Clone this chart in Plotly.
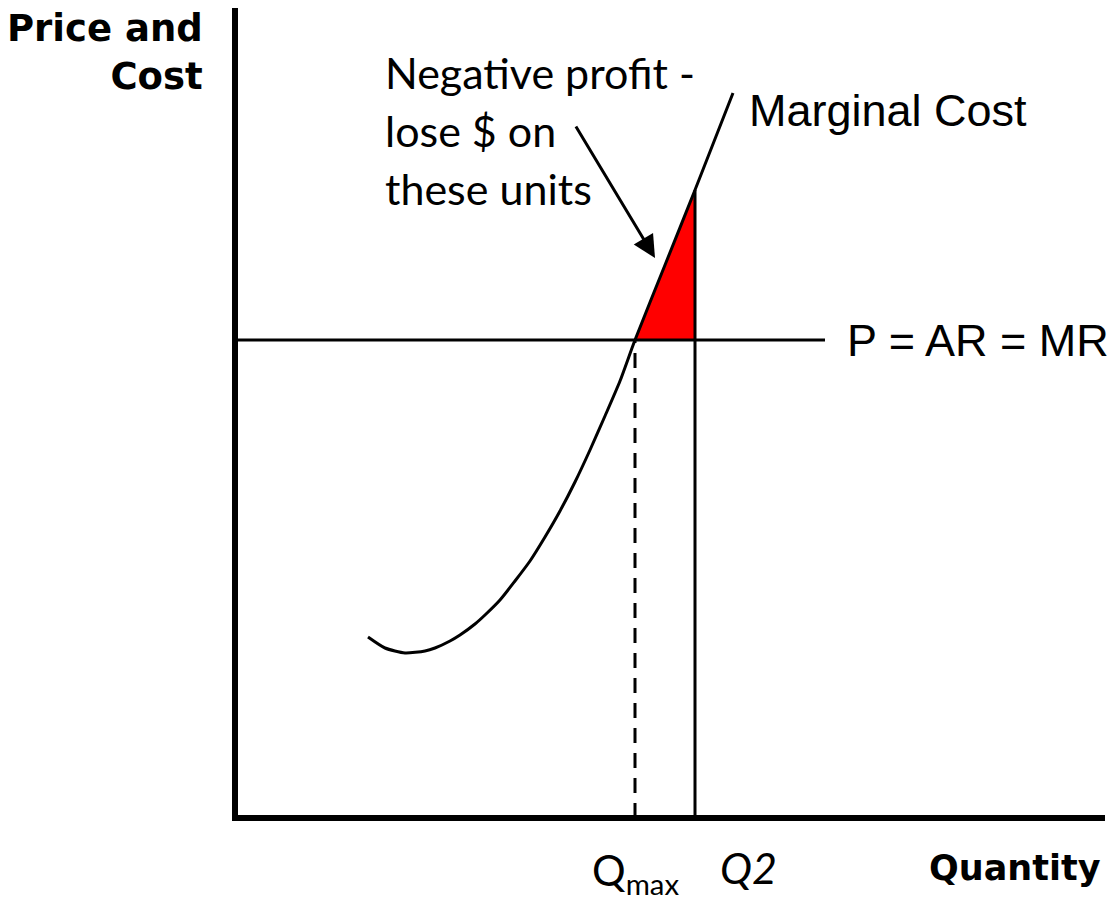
import plotly.graph_objects as go

# Marginal cost curve (quantity, cost)
mc_q = [133, 150, 170, 190, 200, 215, 225, 240, 250, 265, 280, 295, 310, 325, 340, 355, 370, 385, 400, 430, 460, 498]
mc_c = [181, 170, 165, 167, 170, 177, 183, 194, 203, 218, 237, 257, 281, 307, 336, 368, 402, 437, 478, 553, 628, 725]

price = 478          # P = AR = MR
price_end = 590      # where the price line stops
q_max = 400
q2 = 460
mc_at_q2 = 628
axis_x_end = 870
axis_y_end = 812

# loss triangle between P and MC from Qmax to Q2
loss_q = [q_max] + [q for q in mc_q if q_max < q <= q2] + [q2, q_max]
loss_c = [price] + [c for q, c in zip(mc_q, mc_c) if q_max < q <= q2] + [price, price]

fig = go.Figure()

fig.add_trace(go.Scatter(x=loss_q, y=loss_c, fill="toself", fillcolor="#FF0000",
                         line=dict(width=0), mode="lines", hoverinfo="skip"))
# price line
fig.add_trace(go.Scatter(x=[0, price_end], y=[price, price], mode="lines",
                         line=dict(color="black", width=3)))
# dashed Qmax
fig.add_trace(go.Scatter(x=[q_max, q_max], y=[0, price], mode="lines",
                         line=dict(color="black", width=3, dash="15px,10px")))
# solid Q2
fig.add_trace(go.Scatter(x=[q2, q2], y=[0, mc_at_q2], mode="lines",
                         line=dict(color="black", width=3)))
# MC curve
fig.add_trace(go.Scatter(x=mc_q, y=mc_c, mode="lines",
                         line=dict(color="black", width=3, shape="spline", smoothing=0.6)))
# axes
fig.add_trace(go.Scatter(x=[0, 0, axis_x_end], y=[axis_y_end, 0, 0], mode="lines",
                         line=dict(color="black", width=6)))

body = dict(family="Lato", size=43, color="black")
sans = dict(family="Liberation Sans", size=45, color="black")
heavy = dict(family="DejaVu Sans", size=37, color="black", weight="bold")
ann = []
ann.append(dict(x=-30, y=766, text="Price and<br>Cost", showarrow=False, xanchor="right", yanchor="middle",
                align="right", font=heavy))
ann.append(dict(x=868, y=-50, text="Quantity", showarrow=False, xanchor="right", yanchor="middle",
                font=dict(family="DejaVu Sans", size=35, color="black", weight="bold")))
for txt, yy in [("Negative profit -", 746), ("lose $ on", 688), ("these units", 630)]:
    ann.append(dict(x=148, y=yy, text=txt, showarrow=False, xanchor="left", yanchor="middle", font=body))
ann.append(dict(x=512, y=708, text="Marginal Cost", showarrow=False, xanchor="left", yanchor="middle",
                font=sans))
ann.append(dict(x=610, y=price, text="P = AR = MR", showarrow=False, xanchor="left", yanchor="middle",
                font=sans))
ann.append(dict(x=q_max, y=-55, text="Q<sub>max</sub>", showarrow=False, xanchor="center", yanchor="middle",
                font=dict(family="Lato", size=42, color="black")))
ann.append(dict(x=q2 + 53, y=-49, text="<i>Q2</i>", showarrow=False, xanchor="center", yanchor="middle",
                font=dict(family="Lato", size=43, color="black")))
ann.append(dict(x=420, y=560, ax=340, ay=693, axref="x", ayref="y", xref="x", yref="y", text="",
                showarrow=True, arrowhead=2, arrowsize=1.5, arrowwidth=3, arrowcolor="black"))

# page body has an 8px margin; ranges are offset so the drawing lands where the reference has it
fig.update_layout(width=1115, height=900, margin=dict(l=0, r=0, t=0, b=0),
                  paper_bgcolor="white", plot_bgcolor="white", showlegend=False,
                  annotations=ann,
                  xaxis=dict(range=[-227, 888], visible=False, fixedrange=True),
                  yaxis=dict(range=[-90, 810], visible=False, fixedrange=True))

fig.write_html("out.html")
